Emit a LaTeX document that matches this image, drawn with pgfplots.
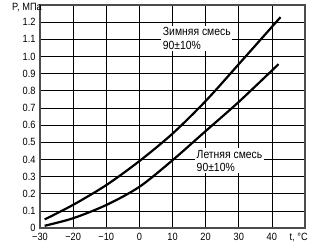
\documentclass[border=0pt]{standalone}
\usepackage{fontspec}
\setmainfont[FakeStretch=0.88]{Liberation Sans}
\usepackage{pgfplots}
\pgfplotsset{compat=1.18}
\begin{document}
\begin{tikzpicture}
\begin{axis}[
  name=ax,
  scale only axis,
  width=265pt, height=223pt,
  xmin=-30, xmax=50, ymin=0, ymax=1.3,
  xtick={-30,-20,-10,0,10,20,30,40},
  xticklabels={−30,−20,−10,0,10,20,30,40},
  ytick={0,0.1,0.2,0.3,0.4,0.5,0.6,0.7,0.8,0.9,1.0,1.1,1.2},
  yticklabels={0,0.1,0.2,0.3,0.4,0.5,0.6,0.7,0.8,0.9,1.0,1.1,1.2},
  major tick length=0pt,
  grid=major,
  major grid style={black, line width=0.7pt},
  axis line style={black!70, line width=1.1pt},
  tick label style={font=\fontsize{10.5}{12}\selectfont},
  xticklabel style={yshift=-2pt},
  yticklabel style={xshift=-1pt},
  /pgf/number format/assume math mode=true,
  clip=false,
]
\addplot[black, line width=2.2pt, smooth] coordinates {
(-28.6,0.05) (-20,0.135) (-10,0.25) (0,0.39) (10,0.55) (20,0.74) (30,0.955) (42.6,1.229)
};
\addplot[black, line width=2.2pt, smooth] coordinates {
(-28.6,0.013) (-20,0.057) (-10,0.134) (0,0.24) (10,0.395) (20,0.565) (30,0.735) (42,0.955)
};
\node[anchor=north west, fill=white, inner sep=1.5pt, align=left, font=\fontsize{11.8}{13.5}\selectfont] at (axis cs:6.6,1.18) {Зимняя смесь\\90±10\%};
\node[anchor=north west, fill=white, inner sep=1.5pt, align=left, font=\fontsize{11.8}{13.5}\selectfont] at (axis cs:16.8,0.465) {Летняя смесь\\90±10\%};
\node[anchor=east, inner sep=0pt, font=\fontsize{10.5}{12}\selectfont] at ([xshift=2pt]axis cs:-30,1.287) {P, МПа};
\node[anchor=north, font=\fontsize{10.5}{12}\selectfont] at ([yshift=-2pt]axis cs:48.1,0) {t, °C};
\end{axis}
\pgfresetboundingbox
\path ([shift={(-40pt,-21pt)}]ax.south west) rectangle ([shift={(7pt,5pt)}]ax.north east);
\end{tikzpicture}
\end{document}
